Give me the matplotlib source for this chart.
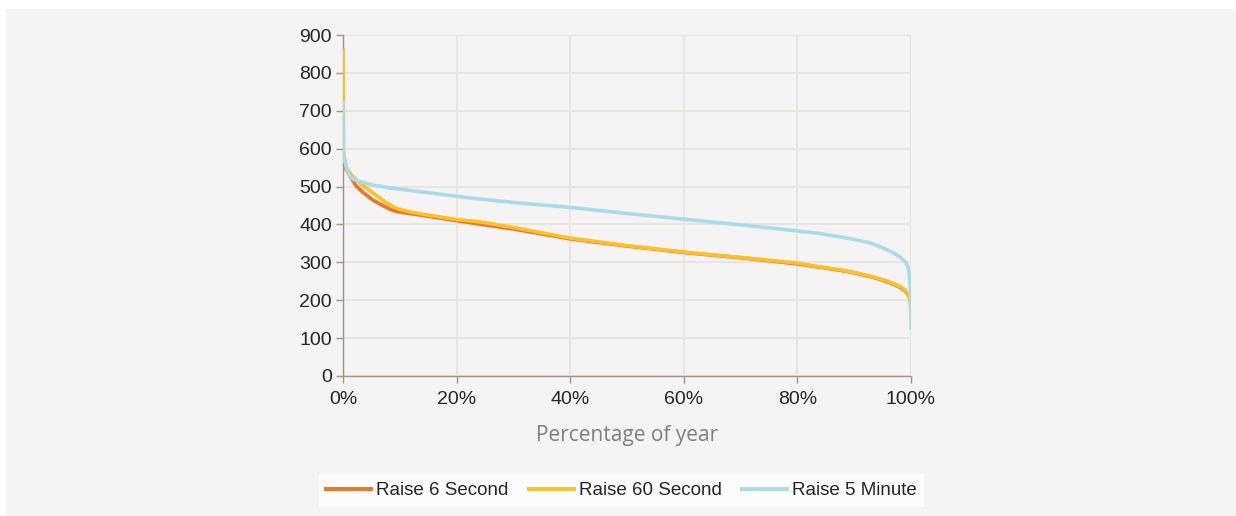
import matplotlib
matplotlib.use("Agg")
import matplotlib.pyplot as plt
from matplotlib.patches import Rectangle

# percentage of year (x) and MW values
pct_6s = [0, 0.3, 0.65, 1.2, 2.4, 3.5, 5.3, 7, 8.3, 9.5, 11.2, 14, 17, 20, 24, 30, 40, 50, 60, 70, 80, 84, 88, 91, 93.5, 95.5, 97, 98.2, 98.9, 99.4, 99.7, 100]
raise_6s = [570, 555, 543, 528, 500, 485, 464, 450, 440, 434, 430, 424, 417, 410, 401, 388, 362, 343, 326, 312, 296, 287, 278, 269, 260, 250, 242, 233, 225, 217, 208, 195]

pct_60s = [0, 0.05, 0.1, 0.3, 0.65, 1.5, 3, 5.3, 7, 8.3, 9.5, 11.2, 14, 17, 20, 24, 30, 40, 50, 60, 70, 80, 84, 88, 91, 93.5, 95.5, 97, 98.2, 98.9, 99.4, 99.7, 99.9, 100]
raise_60s = [860, 720, 590, 570, 548, 530, 509, 483, 464, 451, 442, 435, 427, 420, 413, 407, 392, 364, 344, 327, 313, 298, 288, 279, 270, 261, 252, 244, 235, 227, 218, 207, 190, 166]

pct_5m = [0, 0.05, 0.15, 0.3, 0.6, 1.2, 2, 3, 5.3, 8, 11.2, 17, 22.4, 30, 40, 50, 60, 70, 80, 84, 88, 90.5, 92.8, 94.8, 96.8, 98, 98.9, 99.4, 99.7, 99.9, 100]
raise_5m = [720, 600, 585, 570, 550, 526, 518, 513, 504, 497, 491, 480, 470, 458, 445, 429, 414, 399, 383, 376, 366, 359, 351, 340, 326, 315, 303, 290, 270, 230, 127]

x_ticks = [0, 20, 40, 60, 80, 100]
x_labels = ["0%", "20%", "40%", "60%", "80%", "100%"]
y_ticks = [0, 100, 200, 300, 400, 500, 600, 700, 800, 900]

bg = "#f5f3f4"
spine_col = "#a09482"
grid_col = "#e9e5e1"

fig = plt.figure(figsize=(12.36, 5.16), dpi=100, facecolor="white")
fig.patches.append(Rectangle((6 / 1236, 0), 1 - 6 / 1236, 1 - 9 / 516,
                             transform=fig.transFigure, facecolor=bg,
                             edgecolor="none", zorder=-10))

ax = fig.add_axes([343 / 1236, 1 - 376 / 516, (911 - 343) / 1236, (376 - 35) / 516])
ax.set_facecolor(bg)

ax.plot(pct_6s, raise_6s, color="#f07522", lw=2.6, label="Raise 6 Second", zorder=3)
ax.plot(pct_60s, raise_60s, color="#ffbf27", lw=2.6, label="Raise 60 Second", zorder=4)
ax.plot(pct_5m, raise_5m, color="#a9dcea", lw=2.6, label="Raise 5 Minute", zorder=5)

ax.set_xlim(0, 100)
ax.set_ylim(0, 900)
ax.set_xticks(x_ticks)
ax.set_xticklabels(x_labels)
ax.set_yticks(y_ticks)
ax.grid(True, color=grid_col, lw=1.5, zorder=0)
ax.set_axisbelow(True)

for side in ["top", "right"]:
    ax.spines[side].set_visible(False)
for side in ["left", "bottom"]:
    ax.spines[side].set_color(spine_col)
    ax.spines[side].set_linewidth(1.0)

ax.tick_params(axis="both", direction="out", length=5, width=1, color=spine_col,
               labelsize=14, labelcolor="#262626")
ax.tick_params(axis="x", pad=6)
ax.tick_params(axis="y", pad=3)
for lab in ax.get_xticklabels() + ax.get_yticklabels():
    lab.set_family("Liberation Sans")

ax.set_xlabel("Percentage of year", family="Open Sans", fontsize=15,
              color="#7f7f7f", labelpad=12)

leg = fig.legend(loc="center", bbox_to_anchor=(621.5 / 1236, 1 - 490.5 / 516),
                 ncol=3, frameon=True, fancybox=False, handlelength=2.4,
                 handletextpad=0.25, columnspacing=1.1, borderpad=0.4,
                 prop={"family": "Liberation Sans", "size": 13.5})
leg.get_frame().set_facecolor("white")
leg.get_frame().set_edgecolor("none")
for line in leg.get_lines():
    line.set_linewidth(2.8)
for t in leg.get_texts():
    t.set_color("#262626")

fig.savefig("out.png", dpi=100, facecolor=fig.get_facecolor())
